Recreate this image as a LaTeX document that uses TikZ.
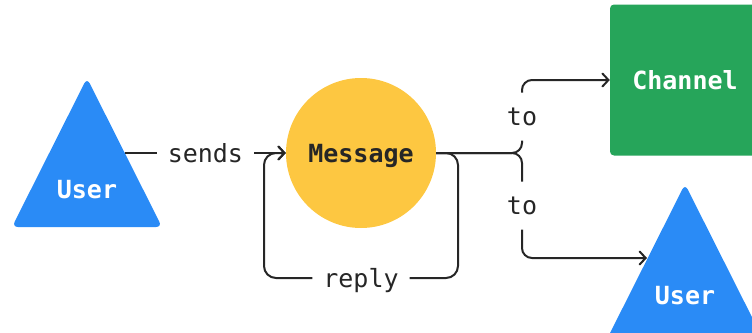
\documentclass[tikz,border=0pt]{standalone}
\usepackage{fontspec}
\setmonofont{DejaVu Sans Mono}
\usetikzlibrary{arrows.meta,positioning,calc}
\definecolor{userblue}{HTML}{2A8BF6}
\definecolor{msgyellow}{HTML}{FDC741}
\definecolor{changreen}{HTML}{26A55A}
\definecolor{ink}{HTML}{262626}
\begin{document}
\begin{tikzpicture}[x=1pt,y=-1pt,
  shapetxt/.style={font=\ttfamily\bfseries\fontsize{25}{29}\selectfont, text height=18pt, text depth=0pt, inner sep=0pt},
  lbl/.style={font=\ttfamily\fontsize{25}{29}\selectfont, text=ink, fill=white, inner xsep=11pt, inner ysep=15pt, text height=18pt, text depth=0pt},
  arr/.style={draw=ink, line width=2pt, -{Straight Barb[length=6pt,width=13pt,line cap=round]}}]
\useasboundingbox (0,0) rectangle (752,332);
\clip (0,0) rectangle (752,332);
% shapes
\fill[userblue, rounded corners=6pt] (87,78) -- (12,227) -- (162,227) -- cycle;
\fill[userblue, rounded corners=6pt] (685,184) -- (604,345) -- (766,345) -- cycle;
\node[shapetxt, text=white] (userA) at (87,189) {User};
\node[shapetxt, text=white] (userB) at (685,295) {User};
\node[shapetxt, circle, fill=msgyellow, text=ink, minimum size=150pt] (msg) at (361,153) {Message};
\node[shapetxt, fill=changreen, text=white, rounded corners=4pt, minimum width=150pt, minimum height=151pt] (chan) at (685,80) {Channel};
\coordinate (userAout) at (125,153);
\coordinate (userBin) at (647,258);
% connectors
\draw[arr] (userAout) -- node[lbl] {sends} (msg.west);
\draw[arr, rounded corners=12pt] (msg.east) -- (458,153) -- (458,278) -- node[lbl] {reply} (264,278) -- (264,153) -- (msg.west);
\foreach \dst/\ty in {chan.west/80,userBin/258}
  \draw[arr, rounded corners=10pt] (msg.east) -- (522,153) -- node[lbl] {to} (522,\ty) -- (\dst);
\end{tikzpicture}
\end{document}
